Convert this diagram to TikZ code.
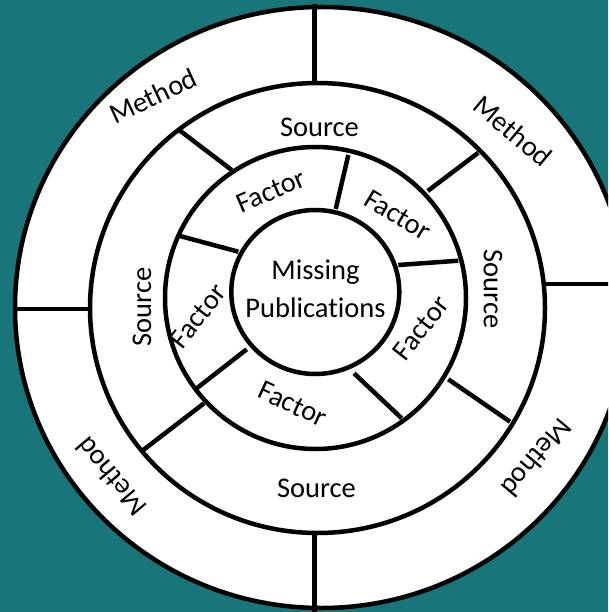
\documentclass[tikz,border=0pt]{standalone}
\usepackage{fontspec}
\setmainfont{Carlito}[RawFeature={-liga}]
\definecolor{backcolor}{RGB}{24,118,123}
\def \ringline {4.5pt}
\def \textsz {28.5}
\def \textskip {38}
\def \outerring {(321.4,307.5) ellipse [x radius=306.4, y radius=300.5]}
\def \sourcering {(317.5,308) ellipse [x radius=227.5, y radius=225]}
\def \factorring {(315.5,298) ellipse [x radius=150.5, y radius=151]}
\def \innerring {(315.3,292) ellipse [x radius=84, y radius=82]}

\begin{document}
\begin{tikzpicture}[x=1pt,y=-1pt,
  ring/.style={draw=black,line width=\ringline},
  divider/.style={black,line width=\ringline},
  ringtext/.style={font=\fontsize{\textsz}{\textskip}\selectfont,inner sep=0pt,align=center}]
% Draw the background
\useasboundingbox (0,0) rectangle (608,612);
\fill[backcolor] (0,0) rectangle (608,612);
\clip (0,0) rectangle (608,612);
% Draw the rings
\fill[white] \outerring;
\draw[ring] \outerring;
\draw[ring] \sourcering;
\draw[ring] \factorring;
\draw[ring] \innerring;
% Draw the lines cutting the method ring
\foreach \xa/\ya/\xb/\yb in {314.5/4/314.5/84, 314.5/531/314.5/612, 13/309/91/309, 544/284/614/284}
  \draw[divider] (\xa,\ya) -- (\xb,\yb);
% Draw the lines cutting the source ring
\foreach \xa/\ya/\xb/\yb in {180/130.7/231.7/170, 478.3/152.7/427.7/191, 448.3/379.3/510/421.7, 204/403.3/143.3/450}
  \draw[divider] (\xa,\ya) -- (\xb,\yb);
% Draw the lines cutting the factor ring
\foreach \xa/\ya/\xb/\yb in {348.3/155/335.7/209, 180/236/238.3/251.7, 398.3/265/458.3/260.7, 354/373.3/401.7/418.3, 246.7/349.3/196.7/388.3}
  \draw[divider] (\xa,\ya) -- (\xb,\yb);
% Write the labels
\node[ringtext] (missing) at (315.5,289) {Missing\\Publications};
\foreach \name/\x/\y/\ang in {srcN/319.5/127/0, srcS/316.5/488/0, srcW/142/307/90, srcE/493/289/-90}
  \node[ringtext,rotate=\ang] (\name) at (\x,\y) {Source};
\foreach \name/\x/\y/\ang in {facN/271/191/23, facNE/398/215/-31, facE/421/328/52, facS/293/404/-25, facW/198/316/52}
  \node[ringtext,rotate=\ang] (\name) at (\x,\y) {Factor};
\foreach \name/\x/\y/\ang in {metNW/153/96/25, metNE/513/131/-40, metSE/537/458/230, metSW/111/477/130}
  \node[ringtext,rotate=\ang] (\name) at (\x,\y) {Method};
\end{tikzpicture}
\end{document}
